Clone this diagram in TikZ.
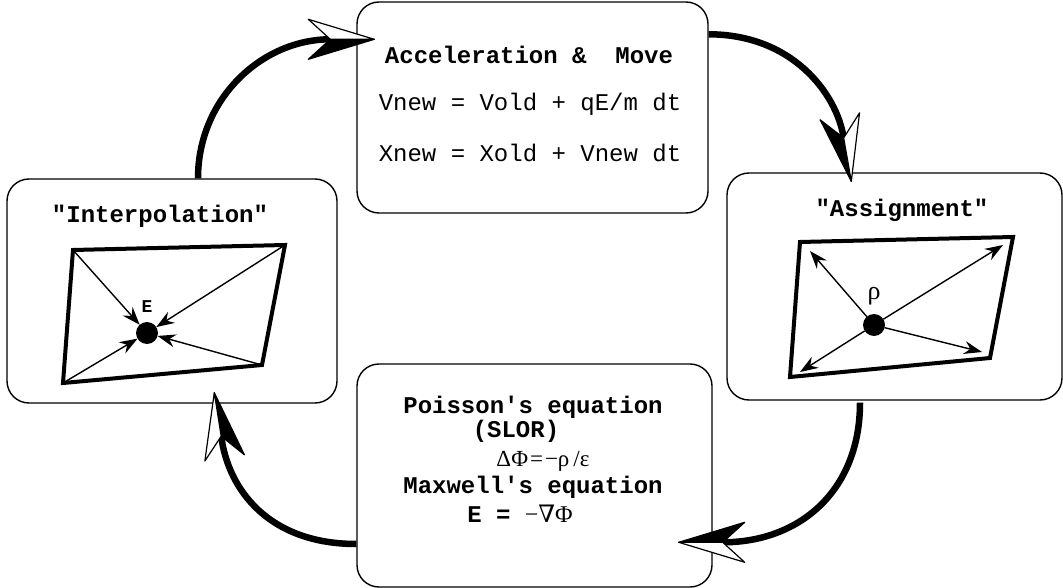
\documentclass[tikz,border=0pt]{standalone}
\usepackage{fontspec}
\setmainfont{Liberation Serif}
\setmonofont{Liberation Mono}
\newfontfamily\nablafont{DejaVu Serif}
\usetikzlibrary{arrows.meta,calc}

\begin{document}
\begin{tikzpicture}[x=1pt, y=-1pt,
  stage/.style={draw, line width=1.4pt, rounded corners=22pt, inner sep=0pt},
  mono/.style={font=\ttfamily\fontsize{24}{28}\selectfont, anchor=base, inner sep=0pt},
  monob/.style={font=\ttfamily\bfseries\fontsize{24}{28}\selectfont, anchor=base, inner sep=0pt},
  sym/.style={font=\fontsize{23}{27}\selectfont, anchor=base, inner sep=0pt},
  cell/.style={line width=4pt, line join=miter},
  vec/.style={line width=1.4pt, -{Stealth[length=18pt,width=13pt,inset=6pt]}},
  dot/.style={circle, fill, inner sep=0pt, outer sep=0pt, minimum size=22pt},
  flow/.style={line width=6.5pt},
  bighead/.pic={
    \filldraw[line width=1.2pt, line join=round, fill=black] (0,0) -- (-66,20) -- (-44,0) -- cycle;
    \filldraw[line width=1.2pt, line join=round, fill=white] (0,0) -- (-66,-20) -- (-44,0) -- cycle;
  }
]
\useasboundingbox (0,0) rectangle (1063,588);

% the four stages of the cycle
\node[stage, minimum width=351pt, minimum height=211pt] (acc) at (532.5,107.5) {};
\node[stage, minimum width=330pt, minimum height=224pt] (interp) at (172,291) {};
\node[stage, minimum width=335pt, minimum height=227pt] (assign) at (894.5,286.5) {};
\node[stage, minimum width=355pt, minimum height=223pt] (poisson) at (534.5,475.5) {};

% texts
\node[monob] (accT) at (529,64) {Acceleration \&\ \ Move};
\node[mono] (accV) at (530,111) {Vnew = Vold + qE/m dt};
\node[mono] (accX) at (530,162) {Xnew = Xold + Vnew dt};
\node[monob] (intT) at (160,223) {"Interpolation"};
\node[monob] (asgT) at (902,217) {"Assignment"};
\node[monob] (poiT) at (533,413) {Poisson's equation};
\node[monob] (poiS) at (516,437) {(SLOR)};
\node[sym] (poiE) at (543,466) {ΔΦ\kern2pt=\kern2pt−ρ\kern4pt/ε};
\node[monob] (maxT) at (533,493) {Maxwell's equation};
\node[sym, font=\fontsize{24}{28}\selectfont] (maxE) at (520,522) {{\ttfamily\bfseries E = }−{\nablafont ∇}Φ};

% interpolation cell: corner values gathered onto the particle
\coordinate (l1) at (73,250);
\coordinate (l2) at (285,245);
\coordinate (l3) at (262,365);
\coordinate (l4) at (63,383);
\draw[cell] (l1) -- (l2) -- (l3) -- (l4) -- cycle;
\node[dot] (eL) at (147,333) {};
\node[monob, font=\ttfamily\bfseries\fontsize{18}{20}\selectfont] (eLab) at (147,312) {E};
\draw[vec] (l1) -- (eL);
\draw[vec] (l2) -- (eL);
\draw[vec] (l3) -- (eL);
\draw[vec] (l4) -- (eL);

% assignment cell: particle charge spread to the corners
\coordinate (r1) at (800,242);
\coordinate (r2) at (1013,237);
\coordinate (r3) at (990,358);
\coordinate (r4) at (790,377);
\draw[cell] (r1) -- (r2) -- (r3) -- (r4) -- cycle;
\node[dot] (rhoR) at (874,325) {};
\node[sym, font=\fontsize{26}{30}\selectfont] (rhoLab) at (874,299) {ρ};
\coordinate (t1) at (810,251);
\coordinate (t2) at (1003,245);
\coordinate (t3) at (982,352);
\coordinate (t4) at (800,372);
\draw[vec] (rhoR) -- (t1);
\draw[vec] (rhoR) -- (t2);
\draw[vec] (rhoR) -- (t3);
\draw[vec] (rhoR) -- (t4);

% cycle arrows
\coordinate (a1s) at ($(interp.north)+(26,0)$);
\coordinate (a1t) at ($(acc.north west)+(18,38)$);
\coordinate (a1n) at ($(a1t)+(-44,0)$);
\draw[flow] (a1s) .. controls +(0,-80) and +(-68,0) .. (a1n);
\pic at (a1t) {bighead};

\coordinate (a2s) at ($(acc.north east)+(0,33)$);
\coordinate (a2t) at ($(assign.north west)+(125,9)$);
\coordinate (a2n) at ($(a2t)+(-7.6,-43.3)$);
\draw[flow] (a2s) .. controls +(83,0) and +(-7,-45) .. (a2n);
\pic[rotate=-80] at (a2t) {bighead};

\coordinate (a3s) at ($(assign.south)+(-34.5,2)$);
\coordinate (a3t) at ($(poisson.north east)+(-34,179)$);
\coordinate (a3n) at ($(a3t)+(44,0)$);
\draw[flow] (a3s) .. controls +(0,88) and +(77,0) .. (a3n);
\pic[rotate=180] at (a3t) {bighead};

\coordinate (a4s) at ($(poisson.west)+(0,68.5)$);
\coordinate (a4t) at ($(interp.south west)+(208,-11)$);
\coordinate (a4n) at ($(a4t)+(6.9,43.5)$);
\draw[flow] (a4s) .. controls +(-87,0) and +(7,54) .. (a4n);
\pic[rotate=99] at (a4t) {bighead};
\end{tikzpicture}
\end{document}
